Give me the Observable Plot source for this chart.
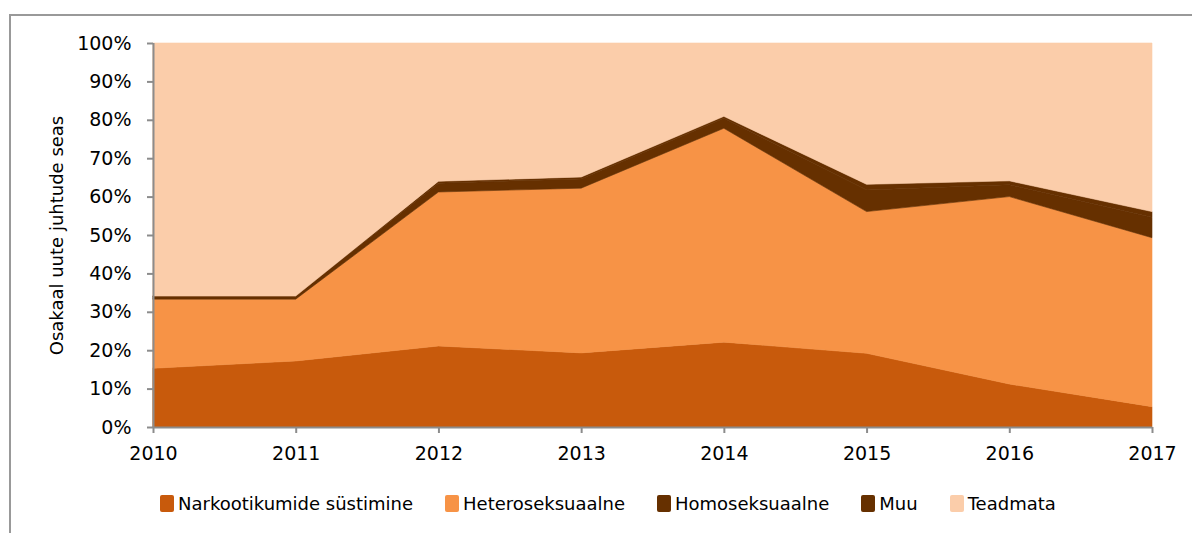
<!DOCTYPE html>
<html>
<head>
<meta charset="utf-8">
<script src="https://cdn.jsdelivr.net/npm/d3@7"></script>
<script src="https://cdn.jsdelivr.net/npm/@observablehq/plot@0.6"></script>
<style>
  html, body { margin: 0; padding: 0; background: #fff; }
  body { width: 1192px; height: 533px; overflow: hidden; font-family: "DejaVu Sans", sans-serif; }
  #wrap { position: relative; width: 1192px; height: 533px; }
  #frame { position: absolute; left: 9px; top: 14px; width: 1300px; height: 600px;
           border-left: 2px solid #999; border-top: 2px solid #999; box-sizing: border-box; }
  #chart { position: absolute; left: 0; top: 0; }
  #legend { position: absolute; left: 160px; top: 493px; display: flex; align-items: center;
            font-size: 18px; color: #000; white-space: nowrap; }
  .item { display: flex; align-items: center; margin-right: 32px; }
  .sw { width: 14px; height: 17px; border-radius: 2px; margin-right: 4px; }
</style>
</head>
<body>
<div id="wrap">
  <div id="frame"></div>
  <div id="chart"></div>
  <div id="legend"></div>
</div>
<script>
const years = [2010, 2011, 2012, 2013, 2014, 2015, 2016, 2017];
const categories = ["Narkootikumide süstimine", "Heteroseksuaalne", "Homoseksuaalne", "Muu", "Teadmata"];
const colors = ["#C85A0C", "#F79346", "#663000", "#663000", "#FBCDAA"];
const narko    = [15.3, 17.2, 21.1, 19.3, 22.1, 19.2, 11.2, 5.3];
const hetero   = [18.0, 16.1, 40.1, 42.9, 55.7, 36.9, 48.8, 44.0];
const homo     = [0.8, 0.8, 2.3, 2.4, 2.6, 5.6, 3.1, 5.3];
const muu      = [0.0, 0.0, 0.5, 0.5, 0.5, 1.5, 1.0, 1.5];
const teadmata = [65.9, 65.9, 36.0, 34.9, 19.1, 36.8, 35.9, 43.9];
const yTicks = [0, 10, 20, 30, 40, 50, 60, 70, 80, 90, 100];
const yLabel = "Osakaal uute juhtude seas";

const series = [narko, hetero, homo, muu, teadmata];
const data = [];
categories.forEach((c, i) => years.forEach((y, j) => data.push({year: y, cat: c, value: series[i][j]})));

const axisGray = "#8c8c8c";
const chart = Plot.plot({
  width: 1192,
  height: 475,
  marginTop: 43,
  marginBottom: 48,
  marginLeft: 153,
  marginRight: 40,
  style: {fontFamily: "DejaVu Sans, sans-serif", fontSize: "19px", color: "#000", background: "transparent", overflow: "visible"},
  x: {domain: [2010, 2017]},
  y: {domain: [0, 100]},
  color: {domain: categories, range: colors},
  marks: [
    Plot.areaY(data, {x: "year", y: "value", fill: "cat", stroke: "cat", strokeWidth: 0.6, z: "cat", order: categories}),
    Plot.axisY({ticks: yTicks, tickFormat: d => d + "%", tickSize: 6, tickPadding: 16,
                stroke: axisGray, strokeWidth: 2, fill: "#000", label: null}),
    Plot.axisX({ticks: years, tickFormat: d => String(d), tickSize: 6, tickPadding: 13,
                stroke: axisGray, strokeWidth: 2, fill: "#000", label: null}),
    Plot.ruleY([0], {stroke: axisGray, strokeWidth: 2}),
    Plot.ruleX([2010], {stroke: axisGray, strokeWidth: 2}),
    Plot.text([yLabel], {frameAnchor: "left", dx: -96, rotate: -90, textAnchor: "middle", text: d => d, fill: "#000", fontSize: 18})
  ]
});
document.getElementById("chart").appendChild(chart);

const legend = document.getElementById("legend");
categories.forEach((c, i) => {
  const it = document.createElement("div");
  it.className = "item";
  const sw = document.createElement("div");
  sw.className = "sw";
  sw.style.background = colors[i];
  const t = document.createElement("span");
  t.textContent = c;
  it.appendChild(sw); it.appendChild(t);
  legend.appendChild(it);
});
</script>
</body>
</html>
